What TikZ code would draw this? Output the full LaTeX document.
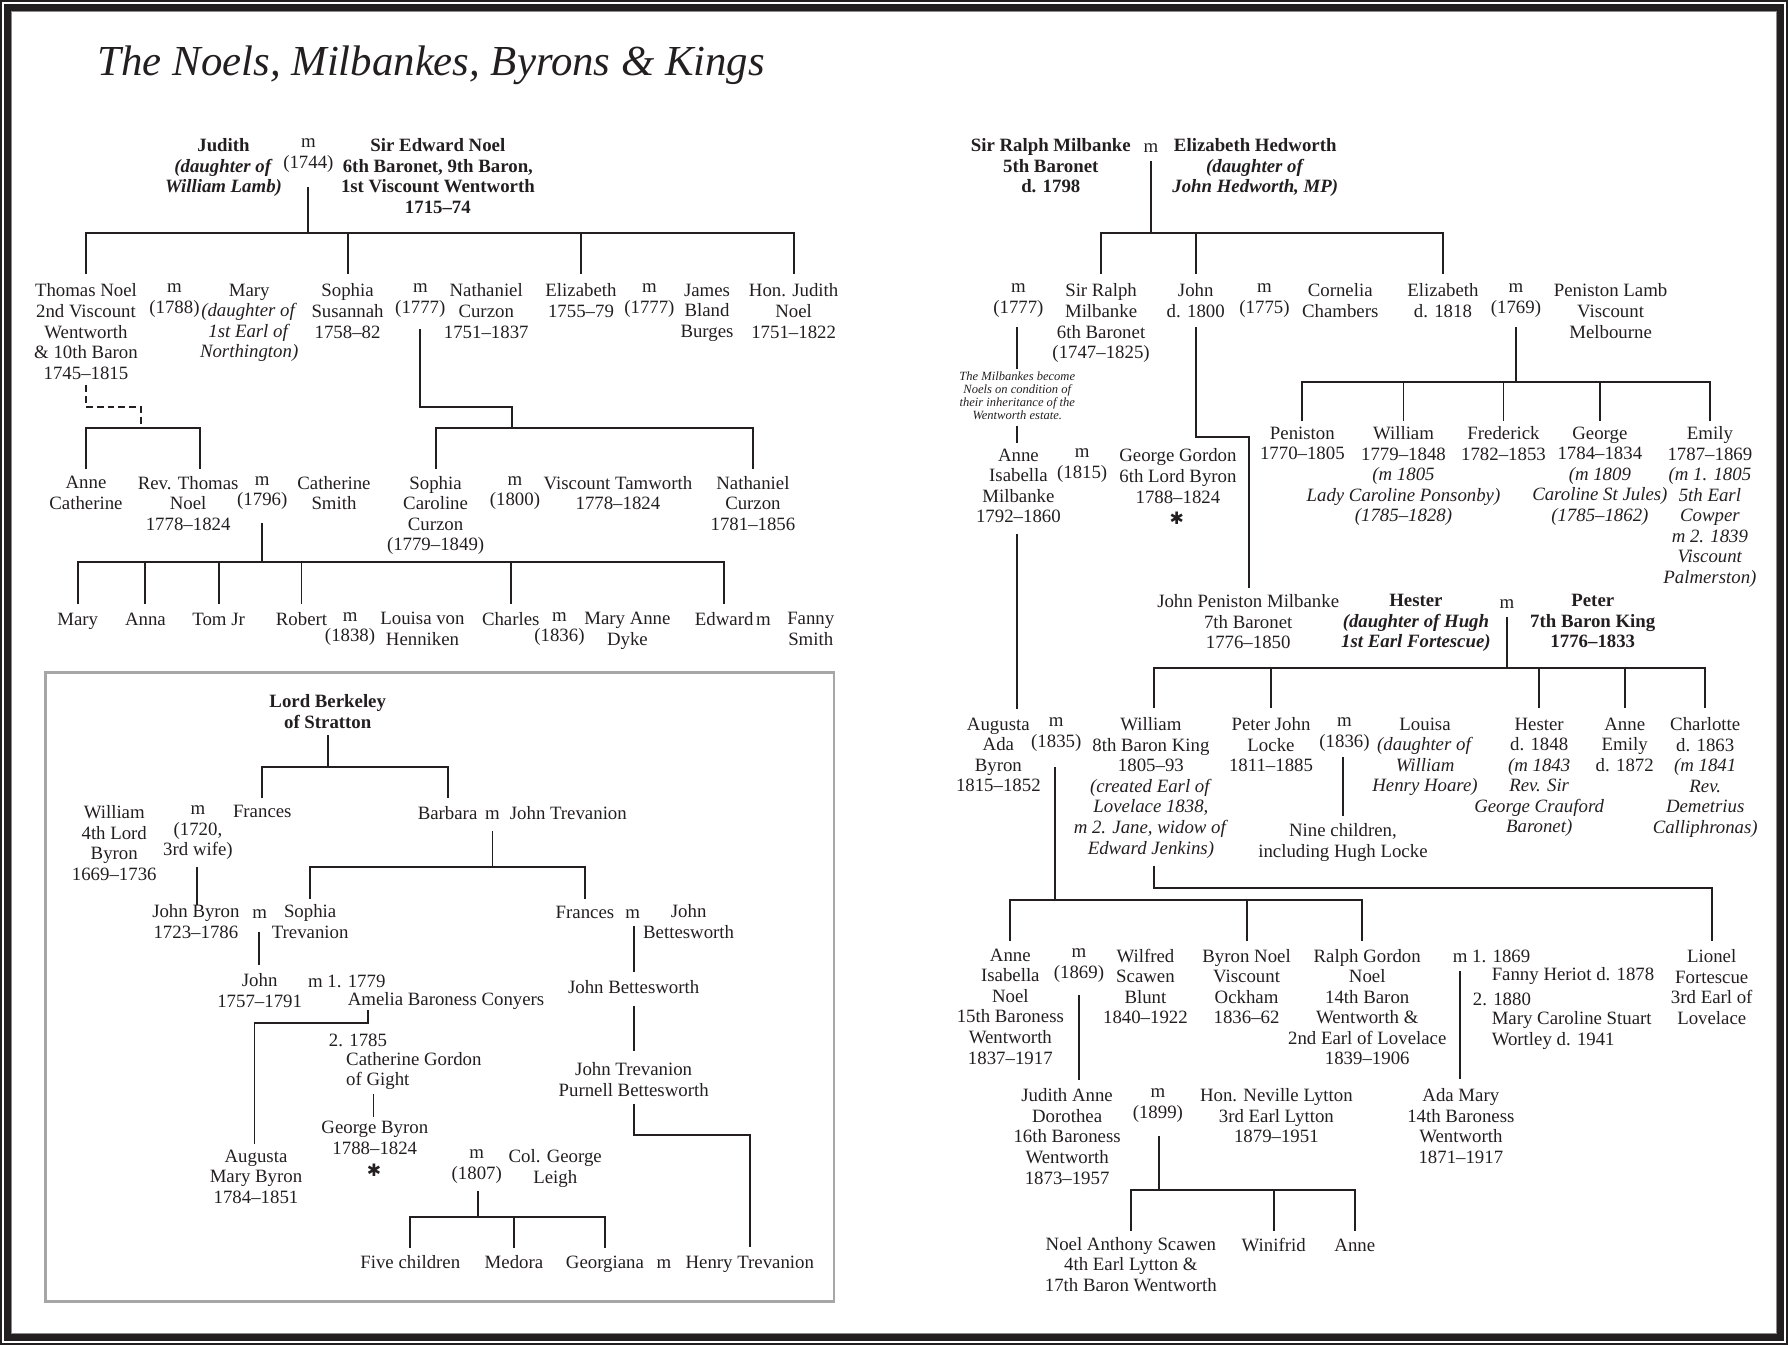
\documentclass[tikz,border=0pt]{standalone}
\usepackage{fontspec}
\setmainfont{Liberation Serif}
\newfontfamily\symfont{DejaVu Sans}
\definecolor{ink}{HTML}{231F20}
\newcommand\nfont{\fontsize{16.5}{18}\selectfont}
\begin{document}
\begin{tikzpicture}[x=1pt,y=-1pt,
  nd/.style={anchor=north,yshift=7pt,inner sep=0pt,align=center,font=\nfont,text=ink,execute at begin node={\rule{0pt}{12pt}}},
  bnd/.style={nd,font=\nfont\bfseries},
  ndl/.style={nd,anchor=north west,align=left},
  note/.style={inner sep=0pt,align=center,font=\fontsize{11}{11.3}\selectfont\itshape,text=ink},
  ln/.style={draw=ink,line width=1.7pt,line cap=rect},
  thinln/.style={draw=ink,line width=0.8pt},
  dsh/.style={draw=ink,line width=1.6pt,dash pattern=on 6pt off 3.5pt},
  starsym/.style={inner sep=0pt,font=\symfont\fontsize{15}{15}\selectfont,text=ink},
]
\useasboundingbox (0,0) rectangle (1568,1179.5);
% frame
\draw[ink,line width=1.75pt] (0.9,0.9) rectangle (1567.1,1178.6);
\draw[ink,line width=6.1pt] (6.6,6.6) rectangle (1561.4,1172.9);
\draw[black!45,line width=0.9pt] (10.1,10.1) rectangle (1557.9,1169.4);
\node[anchor=base west,inner sep=0pt,font=\fontsize{37.5}{40}\selectfont\itshape,text=ink] (title) at (85.6,65.8) {The Noels, Milbankes, Byrons \& Kings};

% ---------- top left ----------
\node[bnd] (judith) at (196,128.6) {Judith\\\textit{(daughter of}\\\textit{William Lamb)}};
\node[nd] (mJE) at (270.4,128.6) {m\\(1744)};
\node[bnd] (edward) at (384,128.6) {Sir Edward Noel\\6th Baronet, 9th Baron,\\1st Viscount Wentworth\\1715–74};

\node[nd] (thomas) at (75.4,255.8) {Thomas Noel\\2nd Viscount\\Wentworth\\\& 10th Baron\\1745–1815};
\node[nd] (mTM) at (153,255.8) {m\\(1788)};
\node[nd] (mary) at (218.5,255.8) {Mary\\\textit{(daughter of}\\\textit{1st Earl of}\\\textit{Northington)}};
\node[nd] (sophiaS) at (304.8,255.8) {Sophia\\Susannah\\1758–82};
\node[nd] (mSN) at (368.6,255.8) {m\\(1777)};
\node[nd] (nathaniel) at (426.4,255.8) {Nathaniel\\Curzon\\1751–1837};
\node[nd] (elizN) at (509.5,255.8) {Elizabeth\\1755–79};
\node[nd] (mEJ) at (569.5,255.8) {m\\(1777)};
\node[nd] (james) at (620,255.8) {James\\Bland\\Burges};
\node[nd] (hjudith) at (696,255.8) {Hon. Judith\\Noel\\1751–1822};

\node[nd] (anneC) at (75.4,424.4) {Anne\\Catherine};
\node[nd] (revT) at (165,424.4) {Rev. Thomas\\Noel\\1778–1824};
\node[nd] (mRC) at (230,424.4) {m\\(1796)};
\node[nd] (cathS) at (292.9,424.4) {Catherine\\Smith};
\node[nd] (sophiaC) at (382,424.4) {Sophia\\Caroline\\Curzon\\(1779–1849)};
\node[nd] (mST) at (451.6,424.4) {m\\(1800)};
\node[nd] (tamworth) at (541.9,424.4) {Viscount Tamworth\\1778–1824};
\node[nd] (nathC) at (660.3,424.4) {Nathaniel\\Curzon\\1781–1856};

\node[nd] (mary2) at (68.1,543.7) {Mary};
\node[nd] (anna) at (127.5,543.7) {Anna};
\node[nd] (tomjr) at (191.7,543.7) {Tom Jr};
\node[nd] (robert) at (264.4,543.7) {Robert};
\node[nd] (mRL) at (307,543.7) {m\\(1838)};
\node[nd] (louisaV) at (370.5,543.7) {Louisa von\\Henniken};
\node[nd] (charles) at (447.9,543.7) {Charles};
\node[nd] (mCM) at (490.6,543.7) {m\\(1836)};
\node[nd] (maryA) at (550.2,543.7) {Mary Anne\\Dyke};
\node[nd] (edward2) at (635.1,543.7) {Edward};
\node[nd] (mEF) at (669.5,543.7) {m};
\node[nd] (fanny) at (711,543.7) {Fanny\\Smith};

% ---------- inset ----------
\draw[black!35,line width=2.2pt] (39.7,589.9) rectangle (731.4,1141.4);
\node[bnd] (berk) at (287.4,616.2) {Lord Berkeley\\of Stratton};
\node[nd] (william) at (100.2,713.3) {William\\4th Lord\\Byron\\1669–1736};
\node[nd] (mWF) at (173.6,713.3) {m\\(1720,\\3rd wife)};
\node[nd] (frances) at (230,711.8) {Frances};
\node[nd] (barbara) at (392.5,713.3) {Barbara};
\node[nd] (mBJ) at (431.9,713.3) {m};
\node[nd] (johnT) at (498.4,713.3) {John Trevanion};
\node[nd] (johnB) at (171.8,800.1) {John Byron\\1723–1786};
\node[nd] (mJS) at (227.7,800.1) {m};
\node[nd] (sophiaT) at (272,800.1) {Sophia\\Trevanion};
\node[nd] (frances2) at (513,800.1) {Frances};
\node[nd] (mFJ) at (554.8,800.1) {m};
\node[nd] (johnBt) at (603.9,800.1) {John\\Bettesworth};
\node[nd] (john) at (227.7,860.8) {John\\1757–1791};
\node[ndl] (m1779) at (270,860.8) {m 1. 1779};
\node[ndl] (amelia) at (304.8,876.3) {Amelia Baroness Conyers};
\node[ndl] (m1785) at (288.3,912.6) {2. 1785};
\node[ndl] (cathG) at (303.4,929.5) {Catherine Gordon\\of Gight};
\node[nd] (johnBt2) at (555.7,865.8) {John Bettesworth};
\node[nd] (johnTPB) at (555.7,938.9) {John Trevanion\\Purnell Bettesworth};
\node[nd] (georgeB) at (328.7,990) {George Byron\\1788–1824};
\node[starsym] (starB) at (328,1026) {✱};
\node[nd] (augustaM) at (224.5,1015) {Augusta\\Mary Byron\\1784–1851};
\node[nd] (m1807) at (418.1,1015) {m\\(1807)};
\node[nd] (colG) at (486.9,1015) {Col. George\\Leigh};
\node[nd] (five) at (359.8,1107.3) {Five children};
\node[nd] (medora) at (450.7,1107.3) {Medora};
\node[nd] (georgiana) at (530.5,1107.3) {Georgiana};
\node[nd] (mGH) at (582.3,1107.3) {m};
\node[nd] (henryT) at (657.5,1107.3) {Henry Trevanion};

% ---------- right ----------
\node[bnd] (ralph5) at (921.5,128.6) {Sir Ralph Milbanke\\5th Baronet\\d. 1798};
\node[nd] (mRE) at (1009.3,128.6) {m};
\node[bnd] (elizH) at (1100.8,128.6) {Elizabeth Hedworth\\\textit{(daughter of}\\\textit{John Hedworth, MP)}};
\node[nd] (m1777r) at (893.1,255.8) {m\\(1777)};
\node[nd] (ralph6) at (965.6,255.8) {Sir Ralph\\Milbanke\\6th Baronet\\(1747–1825)};
\node[nd] (johnM) at (1048.6,255.8) {John\\d. 1800};
\node[nd] (m1775) at (1108.9,255.8) {m\\(1775)};
\node[nd] (cornelia) at (1175.3,255.8) {Cornelia\\Chambers};
\node[nd] (elizM) at (1265.4,255.8) {Elizabeth\\d. 1818};
\node[nd] (m1769) at (1329.4,255.8) {m\\(1769)};
\node[nd] (penistonL) at (1412.4,255.8) {Peniston Lamb\\Viscount\\Melbourne};
\node[note] (note) at (892.1,347.2) {The Milbankes become\\Noels on condition of\\their inheritance of the\\Wentworth estate.};
\node[nd] (penJ) at (1142.1,380.9) {Peniston\\1770–1805};
\node[nd] (williamL) at (1230.8,380.9) {William\\1779–1848\\\textit{(m 1805}\\\textit{Lady Caroline Ponsonby)}\\\textit{(1785–1828)}};
\node[nd] (frederick) at (1318.5,380.9) {Frederick\\1782–1853};
\node[nd] (georgeL) at (1403,380.9) {George\\1784–1834\\\textit{(m 1809}\\\textit{Caroline St Jules)}\\\textit{(1785–1862)}};
\node[nd] (emily) at (1499.5,380.9) {Emily\\1787–1869\\\textit{(m 1. 1805}\\\textit{5th Earl}\\\textit{Cowper}\\\textit{m 2. 1839}\\\textit{Viscount}\\\textit{Palmerston)}};
\node[nd] (anneIM) at (893.1,400.5) {Anne\\Isabella\\Milbanke\\1792–1860};
\node[nd] (m1815) at (949,400.5) {m\\(1815)};
\node[nd] (georgeG) at (1033,400.5) {George Gordon\\6th Lord Byron\\1788–1824};
\node[starsym] (starG) at (1032,454.6) {✱};
\node[nd] (johnPM) at (1094.6,528.2) {John Peniston Milbanke\\7th Baronet\\1776–1850};
\node[bnd] (hester) at (1241.7,528.2) {Hester\\\textit{(daughter of Hugh}\\\textit{1st Earl Fortescue)}};
\node[nd] (mHP) at (1321.4,528.2) {m};
\node[bnd] (peter) at (1396.8,528.2) {Peter\\7th Baron King\\1776–1833};
\node[nd] (augustaA) at (875.5,636.3) {Augusta\\Ada\\Byron\\1815–1852};
\node[nd] (m1835) at (926.3,636.3) {m\\(1835)};
\node[nd] (williamK) at (1009.3,636.3) {William\\8th Baron King\\1805–93\\\textit{(created Earl of}\\\textit{Lovelace 1838,}\\\textit{m 2. Jane, widow of}\\\textit{Edward Jenkins)}};
\node[nd] (peterJL) at (1114.6,636.3) {Peter John\\Locke\\1811–1885};
\node[nd] (m1836) at (1179.1,636.3) {m\\(1836)};
\node[nd] (louisaH) at (1249.7,636.3) {Louisa\\\textit{(daughter of}\\\textit{William}\\\textit{Henry Hoare)}};
\node[nd] (hesterK) at (1349.8,636.3) {Hester\\d. 1848\\\textit{(m 1843}\\\textit{Rev. Sir}\\\textit{George Crauford}\\\textit{Baronet)}};
\node[nd] (anneE) at (1424.8,636.3) {Anne\\Emily\\d. 1872};
\node[nd] (charlotte) at (1495.4,636.3) {Charlotte\\d. 1863\\\textit{(m 1841}\\\textit{Rev.}\\\textit{Demetrius}\\\textit{Calliphronas)}};
\node[nd] (nine) at (1177.7,729.3) {Nine children,\\including Hugh Locke};
\node[nd] (anneIN) at (886,839) {Anne\\Isabella\\Noel\\15th Baroness\\Wentworth\\1837–1917};
\node[nd] (m1869) at (946.2,839) {m\\(1869)};
\node[nd] (wilfred) at (1004.5,839) {Wilfred\\Scawen\\Blunt\\1840–1922};
\node[nd] (byronN) at (1093.2,839) {Byron Noel\\Viscount\\Ockham\\1836–62};
\node[nd] (ralphG) at (1199,839) {Ralph Gordon\\Noel\\14th Baron\\Wentworth \&\\2nd Earl of Lovelace\\1839–1906};
\node[ndl] (m11869) at (1273.9,839) {m 1. 1869};
\node[ndl] (fannyH) at (1308,855) {Fanny Heriot d. 1878};
\node[ndl] (m21880) at (1291.5,877) {2. 1880};
\node[ndl] (maryCS) at (1308,893.9) {Mary Caroline Stuart\\Wortley d. 1941};
\node[nd] (lionel) at (1501.1,839.6) {Lionel\\Fortescue\\3rd Earl of\\Lovelace};
\node[nd] (judithA) at (935.8,961.7) {Judith Anne\\Dorothea\\16th Baroness\\Wentworth\\1873–1957};
\node[nd] (m1899) at (1015.4,961.7) {m\\(1899)};
\node[nd] (neville) at (1119.3,961.7) {Hon. Neville Lytton\\3rd Earl Lytton\\1879–1951};
\node[nd] (adaM) at (1281.1,961.7) {Ada Mary\\14th Baroness\\Wentworth\\1871–1917};
\node[nd] (noelA) at (991.7,1091.9) {Noel Anthony Scawen\\4th Earl Lytton \&\\17th Baron Wentworth};
\node[nd] (winifrid) at (1117,1091.9) {Winifrid};
\node[nd] (anne3) at (1188.1,1091.9) {Anne};

% ---------- connectors: top left ----------
\draw[ln] (mJE |- 0,165) -- (mJE |- 0,204.6);
\draw[ln] (thomas |- 0,204.6) -- (hjudith |- 0,204.6);
\foreach \n in {thomas,sophiaS,elizN,hjudith} \draw[ln] (\n |- 0,204.6) -- (\n |- 0,239.1);
\draw[dsh] (thomas |- 0,337.6) -- (thomas |- 0,356.6) -- (123.6,356.6) -- (123.6,375.6);
\draw[ln] (anneC |- 0,375.6) -- (175,375.6) -- (175,410.7);
\draw[ln] (anneC |- 0,375.6) -- (anneC |- 0,410.7);
\draw[ln] (mSN |- 0,289.4) -- (mSN |- 0,356.6) -- (449.3,356.6) -- (449.3,375.6);
\draw[ln] (sophiaC |- 0,375.6) -- (nathC |- 0,375.6);
\foreach \n in {sophiaC,nathC} \draw[ln] (\n |- 0,375.6) -- (\n |- 0,410.7);
\draw[ln] (mRC |- 0,459.5) -- (mRC |- 0,493.1);
\draw[ln] (mary2 |- 0,493.1) -- (edward2 |- 0,493.1);
\foreach \n in {mary2,anna,tomjr,robert,charles,edward2} \draw[ln] (\n |- 0,493.1) -- (\n |- 0,528.5);

% ---------- connectors: inset ----------
\draw[ln] (berk |- 0,645.4) -- (berk |- 0,672.9);
\draw[ln] (frances |- 0,672.9) -- (barbara |- 0,672.9);
\foreach \n in {frances,barbara} \draw[ln] (\n |- 0,672.9) -- (\n |- 0,699.2);
\draw[ln] (172.7,761.5) -- (johnB.north -| 172.7,0);
\draw[ln] (mBJ |- 0,729.3) -- (mBJ |- 0,760.6);
\draw[ln] (sophiaT |- 0,760.6) -- (frances2 |- 0,760.6);
\foreach \n in {sophiaT,frances2} \draw[ln] (\n |- 0,760.6) -- (\n |- 0,787.8);
\draw[ln] (226.8,818.5) -- (226.8,845.4);
\draw[ln] (555.7,812.6) -- (555.7,851.2);
\draw[ln] (323.1,886.3) -- (323.1,897.4) -- (223.2,897.4) -- (223.2,1002);
\draw[ln] (johnBt2 |- 0,882.8) -- (johnBt2 |- 0,920.8);
\draw[ln] (johnTPB |- 0,969) -- (johnTPB |- 0,995.3) -- (henryT |- 0,995.3) -- (henryT |- 0,1092.6);
\draw[thinln] (327.3,959.3) -- (327.3,979.2);
\draw[ln] (419,1045) -- (419,1067);
\draw[ln] (five |- 0,1067) -- (georgiana |- 0,1067);
\foreach \n in {five,medora,georgiana} \draw[ln] (\n |- 0,1067) -- (\n |- 0,1093.2);

% ---------- connectors: right ----------
\draw[ln] (mRE |- 0,141.8) -- (mRE |- 0,204);
\draw[ln] (ralph6 |- 0,204) -- (elizM |- 0,204);
\foreach \n in {ralph6,johnM,elizM} \draw[ln] (\n |- 0,204) -- (\n |- 0,239.1);
\draw[ln] (892.1,288) -- (892.1,323);
\draw[ln] (892.1,374.2) -- (892.1,387.3);
\draw[ln] (johnM |- 0,288) -- (johnM |- 0,383.5) -- (1095.6,383.5) -- (1095.6,515.1);
\draw[ln] (m1769 |- 0,288) -- (m1769 |- 0,334.7);
\draw[ln] (penJ |- 0,334.7) -- (emily |- 0,334.7);
\foreach \n in {penJ,williamL,frederick,georgeL,emily} \draw[ln] (\n |- 0,334.7) -- (\n |- 0,368.3);
\draw[ln] (892.1,469.2) -- (892.1,621.1);
\draw[ln] (mHP |- 0,542.3) -- (mHP |- 0,585.5);
\draw[ln] (1011.6,585.5) -- (charlotte |- 0,585.5);
\draw[ln] (1011.6,585.5) -- (1011.6,620.3);
\foreach \n in {peterJL,hesterK,anneE,charlotte} \draw[ln] (\n |- 0,585.5) -- (\n |- 0,620.3);
\draw[ln] (1177.7,665) -- (1177.7,714.7);
\draw[ln] (925.3,673.8) -- (925.3,789.3);
\draw[ln] (1011.6,760.6) -- (1011.6,778.5) -- (lionel |- 0,778.5) -- (lionel |- 0,824.3);
\draw[ln] (anneIN |- 0,789.3) -- (1194.3,789.3) -- (1194.3,824.3);
\foreach \n in {anneIN,byronN} \draw[ln] (\n |- 0,789.3) -- (\n |- 0,824.3);
\draw[ln] (1280.6,852.1) -- (1280.6,945.7);
\draw[ln] (m1869 |- 0,873.5) -- (m1869 |- 0,946.2);
\draw[ln] (1016.4,996.9) -- (1016.4,1043.6);
\draw[ln] (noelA |- 0,1043.6) -- (anne3 |- 0,1043.6);
\foreach \n in {noelA,winifrid,anne3} \draw[ln] (\n |- 0,1043.6) -- (\n |- 0,1078.7);
\end{tikzpicture}
\end{document}
